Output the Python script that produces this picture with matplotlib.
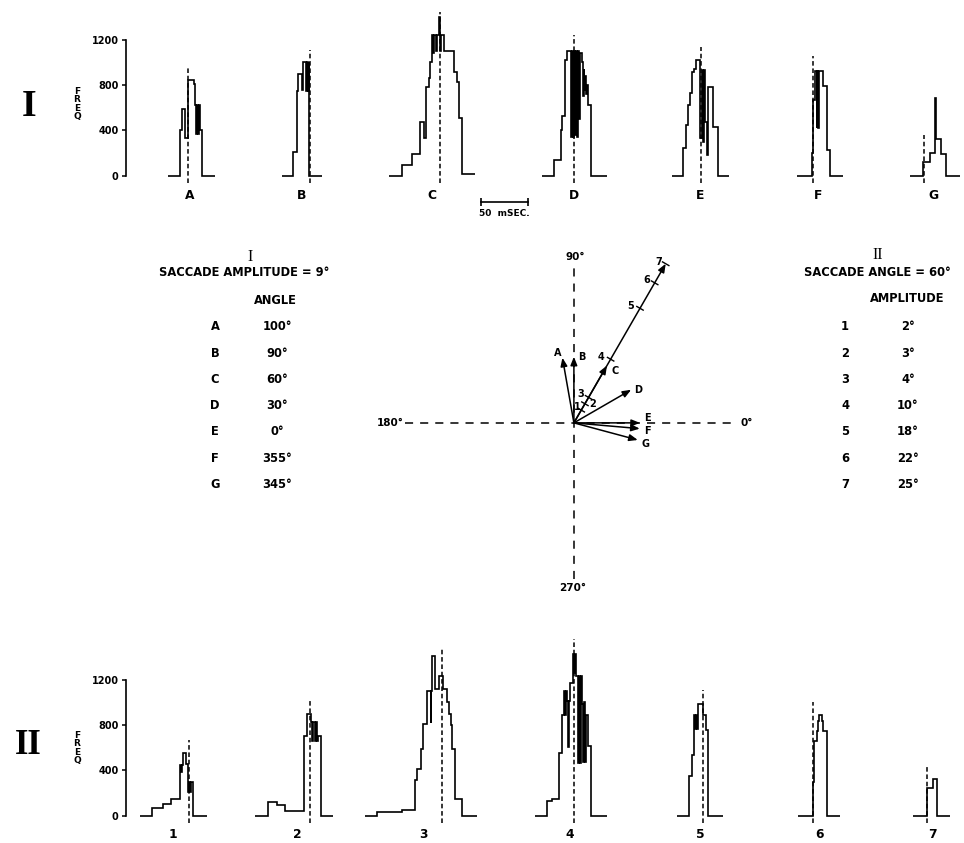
import numpy as np
import matplotlib
matplotlib.use('Agg')
import matplotlib.pyplot as plt

W, H = 964, 843
PX_PER_MS = 0.93          # horizontal scale of histogram rows (px per ms)
FREQ_PX = 136.0 / 1200.0  # vertical scale of histogram rows (px per count)

# ---------------- DATA ----------------
# Part I: saccade amplitude 9 deg, varying angle
top_names = ['A', 'B', 'C', 'D', 'E', 'F', 'G']
top_angles = [100, 90, 60, 30, 0, 355, 345]
top_amplitude = 9

A_edges = [0, 12.5, 14.3, 18.3, 21.5, 28, 29, 30, 31, 32, 33, 34, 36, 50]
A_freq = [0, 400, 590, 330, 840, 810, 620, 370, 620, 370, 620, 400, 0]
B_edges = [0, 11.8, 16.1, 17.9, 21.5, 23.3, 26, 27, 28, 29, 29.7, 43]
B_freq = [0, 210, 750, 900, 760, 1000, 750, 1000, 750, 1000, 0]
C_edges = [0, 13.7, 24.4, 32.6, 36.9, 39.8, 42.3, 44.1, 45.9, 47, 48, 49, 50, 51, 52, 53, 54,
           55, 56, 57, 58.4, 69.1, 72.3, 74.8, 78.4, 92.5]
C_freq = [0, 94, 191, 477, 330, 786, 860, 1000, 1240, 1080, 1240, 1240, 1100, 1240, 1240, 1400,
          1240, 1100, 1240, 1240, 1100, 918, 830, 506, 15]
D_edges = [0, 13.7, 20.9, 22.3, 25.2, 27.6, 30.9, 32, 33, 34, 35, 36, 37, 38, 39.5, 40.5, 41.5,
           43, 44, 45, 46, 47, 48, 49, 50.2, 53.1, 69.9]
D_freq = [0, 138, 403, 530, 1021, 1103, 1103, 340, 1103, 340, 1103, 360, 1103, 340, 1103, 500,
          1080, 1000, 700, 940, 760, 880, 720, 800, 623, 0]
E_edges = [0, 11.8, 15.4, 18, 20.1, 21.5, 24.4, 26.1, 30.4, 32.6, 33.6, 34.7, 35.8, 38, 39.5,
           44.8, 49.5, 62]
E_freq = [0, 242, 447, 624, 727, 918, 939, 1021, 330, 933, 300, 933, 477, 183, 786, 427, 0]
F_edges = [0, 16.1, 17.2, 19.7, 21.5, 22.3, 23.1, 23.9, 28.7, 32.3, 35.8, 50.2]
F_freq = [0, 198, 670, 926, 420, 926, 420, 926, 788, 227, 0]
G_edges = [0, 14.3, 21.5, 26.9, 28.3, 33, 38.7, 53.8]
G_freq = [0, 124, 198, 684, 325, 192, 0]
top_mean_ms = [20.8, 30.5, 54.8, 34.8, 31.5, 17.2, 15.1]
top_mean_top = [960, 1106, 1445, 1242, 1139, 1053, 360]

# Part II: saccade angle 60 deg, varying amplitude
bot_names = ['1', '2', '3', '4', '5', '6', '7']
bot_amplitudes = [2, 3, 4, 10, 18, 22, 25]
bot_angle = 60

H1_edges = [0, 13.3, 25.1, 33, 43, 44, 45, 45.9, 49.5, 52, 53, 54, 55, 56, 57.3, 71.7]
H1_freq = [0, 65, 100, 147, 450, 380, 450, 550, 455, 205, 300, 205, 300, 300, 0]
H2_edges = [0, 14.3, 23.3, 32.3, 52.7, 55.6, 59.9, 61.4, 62.7, 64, 65.4, 66.8, 68.1, 70.6, 84.2]
H2_freq = [0, 123, 94, 38, 705, 895, 825, 660, 825, 660, 825, 660, 705, 0]
H3_edges = [0, 12.5, 39.4, 53.8, 56.3, 59.9, 62.7, 66.3, 70.6, 71.5, 72.4, 75.3, 79.9, 83.5,
            87.8, 90.7, 92, 93.2, 96.8, 103.9, 120]
H3_freq = [0, 30, 45, 310, 410, 590, 810, 1100, 820, 1100, 1410, 1115, 1235, 1115, 1000, 895,
           800, 590, 147, 0]
H4_edges = [0, 13.2, 18, 26.1, 29.4, 31.5, 32.5, 33.5, 34.7, 35.7, 36.7, 37.6, 41.2, 42.2, 43,
            43.8, 46.6, 47.6, 48.6, 49.6, 50.9, 51.9, 52.9, 53.9, 54.8, 57.3, 59.9, 77.1]
H4_freq = [0, 126, 147, 553, 891, 1097, 891, 1097, 1009, 605, 1009, 1171, 1421, 1259, 1421,
           1229, 465, 1229, 465, 1229, 980, 470, 1000, 470, 890, 612, 0]
H5_edges = [0, 13.6, 16.1, 18.6, 19.6, 20.6, 21.6, 22.5, 23.3, 28, 31.5, 34, 49.5]
H5_freq = [0, 347, 538, 891, 760, 891, 760, 891, 980, 891, 758, 0]
H6_edges = [0, 15.4, 17.2, 19.7, 21.5, 22.6, 25.1, 26.9, 31.2, 44.8]
H6_freq = [0, 294, 656, 744, 832, 891, 832, 744, 0]
H7_edges = [0, 14.3, 20.8, 25.1, 39.4]
H7_freq = [0, 244, 323, 0]
bot_mean_ms = [53, 59.1, 82.4, 42, 28, 16.1, 14.3]
bot_mean_top = [667, 1020, 1470, 1555, 1105, 1000, 450]

y_ticks = [0, 400, 800, 1200]
scale_bar_ms = 50

# ---------------- LAYOUT ----------------
top_offsets_px = [168.3, 281.7, 389.3, 541.7, 671.7, 796.7, 910]
top_label_px = [190, 302, 432, 574, 700, 818, 933]
bot_offsets_px = [140, 255, 365, 535, 676.7, 798.3, 913.3]
bot_label_px = [173, 297, 423, 570, 700, 820, 932]

plt.rcParams['font.family'] = ['DejaVu Sans']
fig = plt.figure(figsize=(W / 100, H / 100), dpi=100)
fig.patch.set_facecolor('white')

TXT = dict(fontsize=8.3, fontweight='bold')


def px_axes(x0, y0, x1, y1):
    ax = fig.add_axes([x0 / W, 1 - y1 / H, (x1 - x0) / W, (y1 - y0) / H])
    ax.patch.set_alpha(0)
    return ax


def ftext(x, y, s, **kw):
    kw.setdefault('ha', 'center')
    kw.setdefault('va', 'center')
    fig.text(x / W, 1 - y / H, s, **kw)


def hist_row(y0, y1, base_px, edges_list, freq_list, offsets_px, means, tops, names, label_px):
    ax = px_axes(0, y0, W, y1)
    ax.set_xlim(0, W / PX_PER_MS)
    ax.set_ylim(-(y1 - base_px) / FREQ_PX, (base_px - y0) / FREQ_PX)
    for e, f, off, m, t in zip(edges_list, freq_list, offsets_px, means, tops):
        o = off / PX_PER_MS
        ax.stairs(f, np.array(e) + o, baseline=None, color='black', lw=1.2)
        ax.vlines(o + m, -65, t, colors='black', lw=1.1, linestyles=(0, (3.0, 1.8)))
    lab_y = -19.5 / FREQ_PX
    for n, lx in zip(names, label_px):
        ax.text(lx / PX_PER_MS, lab_y, n, ha='center', va='center', fontsize=8.8,
                fontweight='bold')
    for s in ['top', 'right', 'bottom']:
        ax.spines[s].set_visible(False)
    ax.spines['left'].set_position(('data', 125.5 / PX_PER_MS))
    ax.spines['left'].set_bounds(0, 1200)
    ax.spines['left'].set_linewidth(1.2)
    ax.xaxis.set_visible(False)
    ax.set_yticks(y_ticks)
    ax.set_yticklabels([str(v) for v in y_ticks], fontweight='bold')
    ax.tick_params(axis='y', direction='out', length=3, width=1.1, pad=2, labelsize=7)
    return ax


# ---- Row I ----
axT = hist_row(10, 225, 175.7,
               [A_edges, B_edges, C_edges, D_edges, E_edges, F_edges, G_edges],
               [A_freq, B_freq, C_freq, D_freq, E_freq, F_freq, G_freq],
               top_offsets_px, top_mean_ms, top_mean_top, top_names, top_label_px)
# scale bar
sb_x0 = 481 / PX_PER_MS
sb_y = -(201.7 - 175.7) / FREQ_PX
axT.plot([sb_x0, sb_x0 + scale_bar_ms], [sb_y, sb_y], color='black', lw=1.2)
axT.vlines([sb_x0, sb_x0 + scale_bar_ms], sb_y - 35, sb_y + 35, colors='black', lw=1.2)
axT.text(sb_x0 + scale_bar_ms / 2, -(214 - 175.7) / FREQ_PX, '50  mSEC.', ha='center',
         va='center', fontsize=6.5, fontweight='bold')

# ---- Row II ----
axB = hist_row(620, 843, 815.5,
               [H1_edges, H2_edges, H3_edges, H4_edges, H5_edges, H6_edges, H7_edges],
               [H1_freq, H2_freq, H3_freq, H4_freq, H5_freq, H6_freq, H7_freq],
               bot_offsets_px, bot_mean_ms, bot_mean_top, bot_names, bot_label_px)

# Row labels and FREQ
ftext(29, 106, 'I', family='Liberation Serif', fontsize=27, fontweight='bold')
ftext(28, 746, 'II', family='Liberation Serif', fontsize=25, fontweight='bold')
ftext(77, 104, 'F\nR\nE\nQ', fontsize=6.5, fontweight='bold', linespacing=0.95)
ftext(77, 748, 'F\nR\nE\nQ', fontsize=6.5, fontweight='bold', linespacing=0.95)

# ---- Middle: tables ----
ftext(250, 257, 'I', family='Liberation Serif', fontsize=11.5)
ftext(244, 273, 'SACCADE AMPLITUDE = 9°', **TXT)
ftext(275, 300, 'ANGLE', **TXT)
for i, (n, a) in enumerate(zip(top_names, top_angles)):
    y = 327 + i * 26.2
    ftext(215, y, n, **TXT)
    ftext(277, y, f'{a}°', **TXT)

ftext(878, 255, 'II', family='Liberation Serif', fontsize=11.5)
ftext(877, 273, 'SACCADE ANGLE = 60°', **TXT)
ftext(907, 298, 'AMPLITUDE', **TXT)
for i, (n, a) in enumerate(zip(bot_names, bot_amplitudes)):
    y = 327 + i * 26.2
    ftext(845, y, n, **TXT)
    ftext(908, y, f'{a}°', **TXT)

# ---- Middle: vector diagram ----
axP = px_axes(380, 245, 770, 600)
axP.set_xlim(-26.4, 26.7)
axP.set_ylim(-24.1, 24.2)
axP.axis('off')
axP.plot([-23, 21.9], [0, 0], color='black', lw=1.1, ls=(0, (5.3, 4.6)))
axP.plot([0, 0], [-21.2, 21.5], color='black', lw=1.1, ls=(0, (5.3, 4.6)))
PT = dict(ha='center', va='center', fontsize=7.5, fontweight='bold')
axP.text(-25.0, 0, '180°', **PT)
axP.text(23.5, 0, '0°', **PT)
axP.text(0.15, 22.5, '90°', **PT)
axP.text(-0.2, -22.5, '270°', **PT)

arrow_kw = dict(arrowstyle='-|>,head_length=0.5,head_width=0.2', color='black', lw=1.1,
                mutation_scale=10, shrinkA=0, shrinkB=0)
LT = dict(ha='center', va='center', fontsize=7, fontweight='bold')
top_lab_off = [(-0.6, 0.6), (1.1, 0.0), (1.1, -0.8), (1.0, 0.0), (1.0, 0.7), (1.0, -0.3),
               (1.1, -0.5)]
for n, ang, off in zip(top_names, top_angles, top_lab_off):
    t = np.deg2rad(ang)
    tip = (top_amplitude * np.cos(t), top_amplitude * np.sin(t))
    axP.annotate('', xy=tip, xytext=(0, 0), arrowprops=arrow_kw)
    axP.text(tip[0] + off[0], tip[1] + off[1], n, **LT)

t2 = np.deg2rad(bot_angle)
ux, uy = np.cos(t2), np.sin(t2)
amax = max(bot_amplitudes)
axP.annotate('', xy=(amax * ux, amax * uy), xytext=(0, 0), arrowprops=arrow_kw)
bot_lab_off = [(-0.6, 0.4), (1.0, 0.0), (-1.05, 0.45), (-1.3, 0.3), (-1.25, 0.3),
               (-1.1, 0.45), (-0.9, 0.2)]
for n, a, off in zip(bot_names, bot_amplitudes, bot_lab_off):
    cx, cy = a * ux, a * uy
    h = 0.5
    axP.plot([cx - h * uy, cx + h * uy], [cy + h * ux, cy - h * ux], color='black', lw=1.0)
    axP.text(cx + off[0], cy + off[1], n, **LT)

fig.savefig('out.png', dpi=100, facecolor='white')
